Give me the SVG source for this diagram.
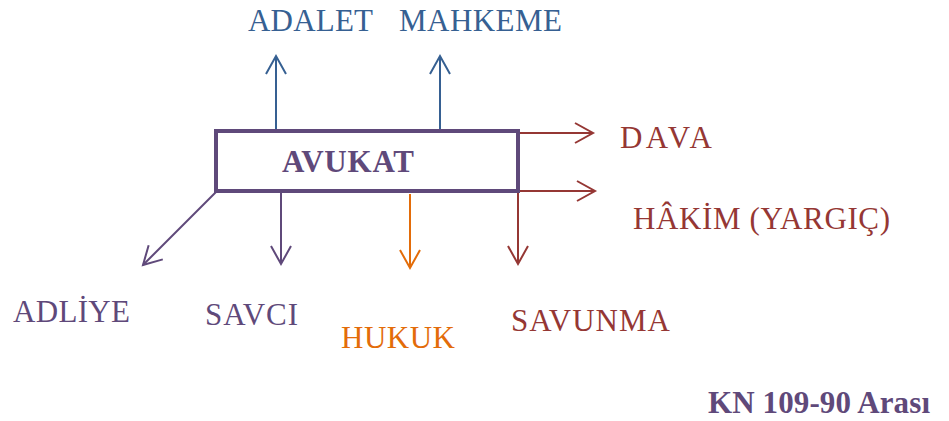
<svg xmlns="http://www.w3.org/2000/svg" width="949" height="421" viewBox="0 0 949 421">
<style>
text{font-family:"Liberation Serif","Times New Roman",serif;font-size:31px}
.b{font-weight:bold}
.pu{fill:#5f497a}.bl{fill:#366092}.rd{fill:#953734}.or{fill:#e36c09}
.c{fill:none;stroke-width:2}
</style>
<defs>
<marker id="mPu" markerUnits="userSpaceOnUse" markerWidth="30" markerHeight="30" refX="0" refY="0" orient="auto" overflow="visible"><path d="M-18,-10 L0,0 L-18,10" fill="none" stroke="#5f497a" stroke-width="2"/></marker>
<marker id="mBl" markerUnits="userSpaceOnUse" markerWidth="30" markerHeight="30" refX="0" refY="0" orient="auto" overflow="visible"><path d="M-18,-10 L0,0 L-18,10" fill="none" stroke="#366092" stroke-width="2"/></marker>
<marker id="mRd" markerUnits="userSpaceOnUse" markerWidth="30" markerHeight="30" refX="0" refY="0" orient="auto" overflow="visible"><path d="M-18,-10 L0,0 L-18,10" fill="none" stroke="#953734" stroke-width="2"/></marker>
<marker id="mOr" markerUnits="userSpaceOnUse" markerWidth="30" markerHeight="30" refX="0" refY="0" orient="auto" overflow="visible"><path d="M-18,-10 L0,0 L-18,10" fill="none" stroke="#e36c09" stroke-width="2"/></marker>
</defs>
<g id="connectors">
<line class="c" x1="276" y1="129" x2="276" y2="56" stroke="#366092" marker-end="url(#mBl)"/>
<line class="c" x1="440" y1="129" x2="440" y2="56" stroke="#366092" marker-end="url(#mBl)"/>
<line class="c" x1="520" y1="133" x2="593" y2="133" stroke="#953734" marker-end="url(#mRd)"/>
<line class="c" x1="520" y1="191" x2="595" y2="191" stroke="#953734" marker-end="url(#mRd)"/>
<line class="c" x1="518" y1="193" x2="518" y2="264" stroke="#953734" marker-end="url(#mRd)"/>
<line class="c" x1="410" y1="194" x2="410" y2="268" stroke="#e36c09" marker-end="url(#mOr)"/>
<line class="c" x1="281" y1="193" x2="281" y2="264" stroke="#5f497a" marker-end="url(#mPu)"/>
<line class="c" x1="216" y1="192" x2="143" y2="265" stroke="#5f497a" marker-end="url(#mPu)"/>
</g>
<g id="avukat">
<rect x="216" y="131" width="302" height="60" fill="#fff" stroke="#5f497a" stroke-width="4"/>
<text class="b pu" x="282" y="172" font-size="30" textLength="132">AVUKAT</text>
</g>
<g id="adalet"><text class="bl" x="248" y="31" textLength="125">ADALET</text></g>
<g id="mahkeme"><text class="bl" x="399" y="31" textLength="163">MAHKEME</text></g>
<g id="dava"><text class="rd" x="620" y="148" textLength="92">DAVA</text></g>
<g id="hakim"><text class="rd" x="633" y="229" textLength="257">HÂKİM (YARGIÇ)</text></g>
<g id="adliye"><text class="pu" x="13" y="322" textLength="117">ADLİYE</text></g>
<g id="savci"><text class="pu" x="205" y="325" textLength="93">SAVCI</text></g>
<g id="hukuk"><text class="or" x="341" y="348" textLength="114">HUKUK</text></g>
<g id="savunma"><text class="rd" x="511" y="331" textLength="159">SAVUNMA</text></g>
<g id="kn"><text class="b pu" x="708" y="413" font-size="29" textLength="222">KN 109-90 Arası</text></g>
</svg>
